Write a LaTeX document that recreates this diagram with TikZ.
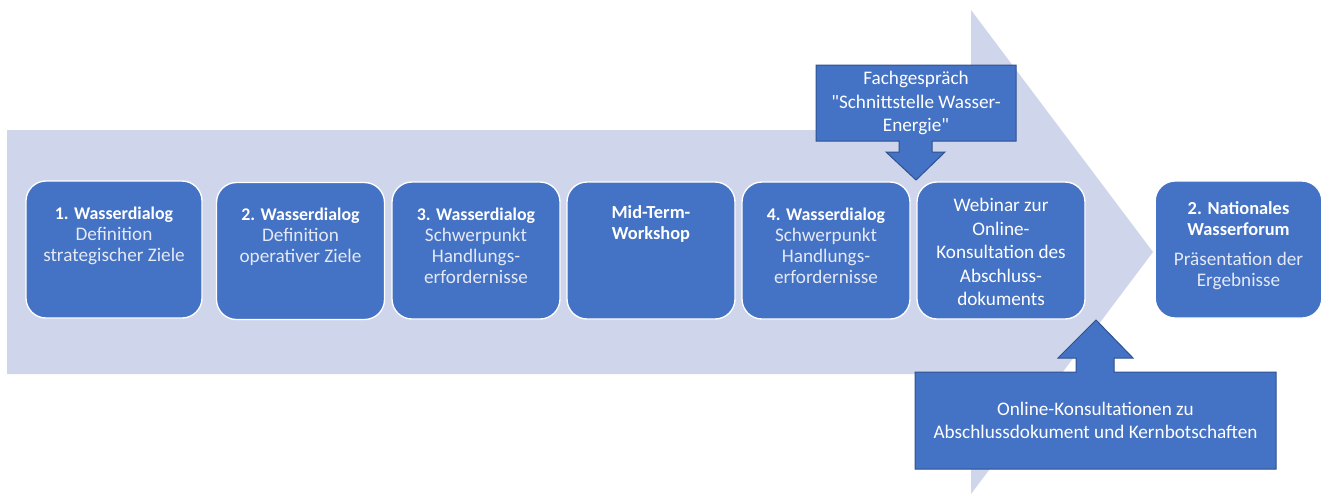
\documentclass[tikz,border=0pt]{standalone}
\usepackage{fontspec}
\setmainfont{Carlito}
\usetikzlibrary{positioning}
\definecolor{stageblue}{HTML}{4472C4}
\definecolor{flowgrey}{HTML}{CFD5EA}
\definecolor{calloutedge}{HTML}{2F528F}
\definecolor{subtext}{HTML}{E4E9F5}
\newcommand{\lite}[1]{\textcolor{subtext}{#1}}
\newcommand{\ttl}[1]{{\fontsize{13.4}{15.75}\selectfont\bfseries #1}}
\tikzset{
  stage/.style={draw=white, line width=1pt, fill=stageblue, rounded corners=15pt,
    minimum width=126pt, minimum height=102.75pt, inner sep=0pt},
  stagetext/.style={text=white, align=center, inner sep=0pt,
    font=\fontsize{14.4}{15.75}\selectfont},
  callout/.style={fill=stageblue, draw=calloutedge, line width=0.75pt},
  callouttext/.style={text=white, align=center, inner sep=0pt,
    font=\fontsize{14.4}{17.6}\selectfont},
}

\begin{document}
\begin{tikzpicture}[x=0.75pt, y=-0.75pt]
\useasboundingbox (0,0) rectangle (1326,494);

% process arrow in the background
\fill[flowgrey] (7,130) -- (971,130) -- (971,10) -- (1153,252) -- (971,494) -- (971,374) -- (7,374) -- cycle;

% stages
\node[stage, minimum width=132pt] (s1) at (114,249.5) {};
\node[stage] (s2) at (300.5,251) {};
\node[stage] (s3) at (476,250.5) {};
\node[stage] (s4) at (651,250.5) {};
\node[stage] (s5) at (826,250.5) {};
\node[stage] (s6) at (1001,250.5) {};
\node[stage, minimum width=125pt] (forum) at (1238.5,249.5) {};

\node[stagetext, below=19.5pt of s1.north] (t1) {\ttl{1. Wasserdialog}\\\lite{Definition}\\\lite{strategischer Ziele}};
\node[stagetext, below=19.5pt of s2.north] (t2) {\ttl{2. Wasserdialog}\\\lite{Definition}\\\lite{operativer Ziele}};
\node[stagetext, below=19.5pt of s3.north] (t3) {\ttl{3. Wasserdialog}\\\lite{Schwerpunkt}\\\lite{Handlungs-}\\\lite{erfordernisse}};
\node[stagetext, below=18pt of s4.north] (t4) {\ttl{\fontsize{13.8}{15.75}\selectfont Mid-Term-}\\\ttl{\fontsize{13.8}{15.75}\selectfont Workshop}};
\node[stagetext, below=19.5pt of s5.north] (t5) {\ttl{4. Wasserdialog}\\\lite{Schwerpunkt}\\\lite{Handlungs-}\\\lite{erfordernisse}};
\node[callouttext] (t6) at (1001,252) {Webinar zur\\Online-\\Konsultation des\\Abschluss-\\dokuments};
\node[stagetext, below=15.5pt of forum.north] (tforum) {\ttl{\fontsize{13.8}{15.75}\selectfont 2. Nationales}\\\ttl{\fontsize{13.8}{15.75}\selectfont Wasserforum}\\[7pt]\lite{Präsentation der}\\\lite{Ergebnisse}};

% callouts
\draw[callout] (816,65) -- (1016,65) -- (1016,141) -- (932,141) -- (932,152) -- (945,152) -- (916,180)
  -- (886,152) -- (899,152) -- (899,141) -- (816,141) -- cycle;
\node[callouttext] (talk) at (916,103) {Fachgespräch\\\textquotedbl Schnittstelle Wasser-\\Energie\textquotedbl};

\draw[callout] (915,372) -- (1076,372) -- (1076,358) -- (1058,358) -- (1096,320) -- (1133,358)
  -- (1114,358) -- (1114,372) -- (1276,372) -- (1276,469) -- (915,469) -- cycle;
\node[callouttext] (online) at (1095.5,420.5) {Online-Konsultationen zu\\Abschlussdokument und Kernbotschaften};
\end{tikzpicture}
\end{document}
